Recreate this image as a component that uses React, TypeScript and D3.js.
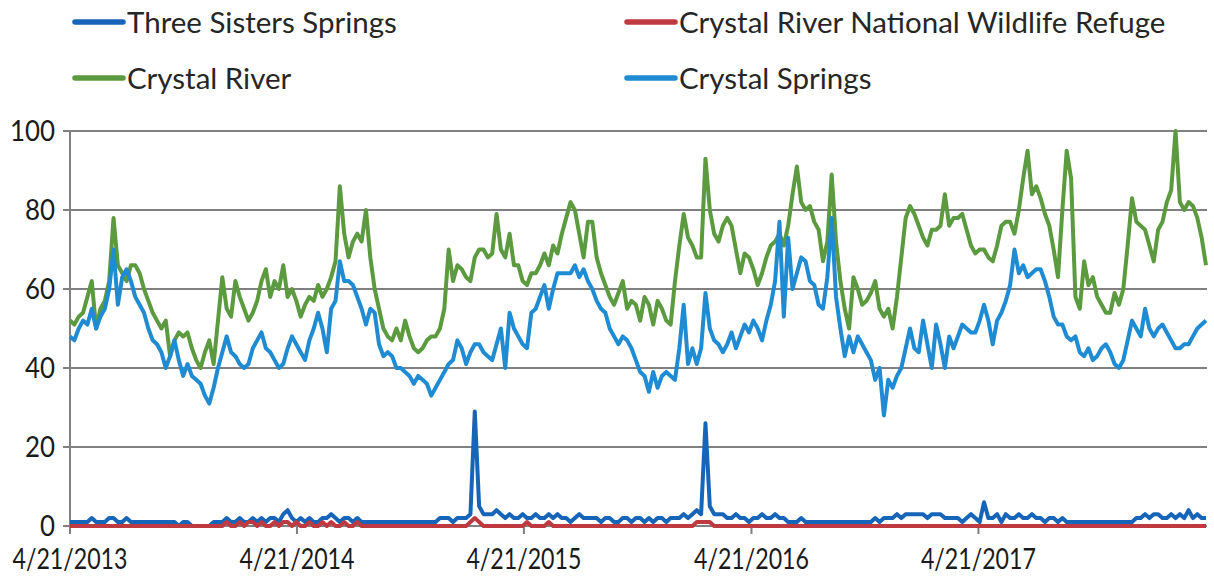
import React from "react";
import * as d3 from "d3";

// weekly Google-Trends style interest, starting the week of 4/21/2013
const firstWeek = "2013-04-21";
const seriesNames = [
  "Three Sisters Springs",
  "Crystal River National Wildlife Refuge",
  "Crystal River",
  "Crystal Springs",
];
const tickLabels = ["4/21/2013", "4/21/2014", "4/21/2015", "4/21/2016", "4/21/2017"];
const yTicks = [0, 20, 40, 60, 80, 100];

const threeSistersSprings = [
  1, 1, 1, 1, 1, 2, 1, 1, 1, 2, 2, 1, 1, 2, 1, 1, 1, 1, 1, 1,
  1, 1, 1, 1, 1, 0, 1, 1, 0, 0, 0, 0, 0, 1, 1, 1, 2, 1, 1, 2,
  1, 1, 2, 1, 2, 1, 2, 2, 1, 3, 4, 2, 1, 2, 1, 2, 1, 1, 2, 2,
  3, 2, 1, 2, 2, 1, 2, 1, 1, 1, 1, 1, 1, 1, 1, 1, 1, 1, 1, 1,
  1, 1, 1, 1, 1, 2, 2, 2, 1, 2, 2, 2, 3, 29, 5, 3, 3, 3, 4, 3,
  2, 3, 2, 2, 3, 2, 2, 3, 2, 2, 3, 2, 3, 2, 2, 1, 2, 3, 2, 2,
  2, 2, 1, 2, 2, 1, 1, 2, 2, 1, 2, 2, 1, 2, 1, 2, 2, 1, 2, 2,
  2, 3, 2, 3, 4, 3, 26, 5, 3, 3, 3, 2, 2, 3, 2, 2, 1, 2, 2, 3,
  2, 2, 3, 2, 2, 1, 1, 1, 2, 1, 1, 1, 1, 1, 1, 1, 1, 1, 1, 1,
  1, 1, 1, 1, 1, 2, 1, 2, 2, 2, 3, 2, 3, 3, 3, 3, 3, 2, 3, 3,
  3, 2, 2, 2, 2, 1, 2, 3, 2, 1, 6, 2, 2, 3, 1, 3, 2, 2, 3, 2,
  2, 3, 2, 2, 1, 2, 2, 1, 2, 1, 1, 1, 1, 1, 1, 1, 1, 1, 1, 1,
  1, 1, 1, 1, 1, 2, 2, 3, 2, 3, 3, 2, 2, 3, 2, 3, 2, 4, 2, 3,
  2, 2,
];

const crystalRiverNWR = [
  0, 0, 0, 0, 0, 0, 0, 0, 0, 0, 0, 0, 0, 0, 0, 0, 0, 0, 0, 0,
  0, 0, 0, 0, 0, 0, 0, 0, 0, 0, 0, 0, 0, 0, 0, 0, 1, 0, 0, 1,
  0, 1, 1, 0, 1, 0, 0, 1, 0, 1, 1, 0, 1, 0, 0, 1, 0, 0, 1, 0,
  1, 0, 0, 1, 0, 0, 1, 0, 0, 0, 0, 0, 0, 0, 0, 0, 0, 0, 0, 0,
  0, 0, 0, 0, 0, 0, 0, 0, 0, 0, 0, 0, 1, 2, 1, 0, 0, 0, 0, 0,
  0, 0, 0, 0, 0, 1, 0, 0, 0, 0, 1, 0, 0, 0, 0, 0, 0, 0, 0, 0,
  0, 0, 0, 0, 0, 0, 0, 0, 0, 0, 0, 0, 0, 0, 0, 0, 0, 0, 0, 0,
  0, 0, 0, 0, 1, 1, 1, 1, 0, 0, 0, 0, 0, 0, 0, 0, 0, 0, 0, 0,
  0, 0, 0, 0, 0, 0, 0, 0, 0, 0, 0, 0, 0, 0, 0, 0, 0, 0, 0, 0,
  0, 0, 0, 0, 0, 0, 0, 0, 0, 0, 0, 0, 0, 0, 0, 0, 0, 0, 0, 0,
  0, 0, 0, 0, 0, 0, 0, 0, 0, 0, 0, 0, 0, 0, 0, 0, 0, 0, 0, 0,
  0, 0, 0, 0, 0, 0, 0, 0, 0, 0, 0, 0, 0, 0, 0, 0, 0, 0, 0, 0,
  0, 0, 0, 0, 0, 0, 0, 0, 0, 0, 0, 0, 0, 0, 0, 0, 0, 0, 0, 0,
  0, 0,
];

const crystalRiver = [
  52, 51, 53, 54, 58, 62, 50, 55, 57, 62, 78, 66, 64, 62, 66, 66, 64, 60, 57, 54,
  52, 50, 52, 43, 47, 49, 48, 49, 45, 42, 40, 44, 47, 41, 52, 63, 55, 53, 62, 58,
  55, 52, 54, 57,
  62, 65, 58, 62, 60, 66, 58, 60, 57, 53, 56, 58, 57, 61, 58, 60, 63, 67, 86, 74,
  68, 72, 74, 72, 80, 68, 60, 55, 50, 48, 47, 50, 47, 52, 48, 45, 44, 45, 47, 48,
  48, 50, 55, 70,
  62, 66, 65, 63, 62, 68, 70, 70, 68, 69, 79, 70, 68, 74, 66, 66, 62, 61, 64, 64,
  66, 69, 66, 71, 69, 74, 78, 82, 80, 74, 68, 77, 77, 68, 64, 61, 58, 56, 59, 62,
  55, 57, 56, 52,
  58, 56, 51, 57, 55, 52, 51, 62, 71, 79, 73, 71, 68, 68, 93, 80, 74, 72, 76, 78,
  76, 70, 64, 69, 68, 65, 61, 64, 68, 71, 72, 74, 71, 76, 84, 91, 82, 80, 81, 77,
  75, 67, 72, 89,
  72, 62, 55, 50, 63, 60, 56, 57, 59, 62, 55, 53, 55, 50, 58, 68, 78, 81, 79, 76,
  73, 71, 75, 75, 76, 84, 76, 78, 78, 79, 75, 71, 69, 70, 70, 68, 67, 71, 76, 77,
  77, 74, 80,
  88, 95, 84, 86, 83, 79, 76, 70, 63, 80, 95, 88, 58, 55, 67, 61, 63, 58, 56, 54,
  54, 59, 56, 60, 71, 83, 77, 76, 75, 71, 67, 75, 77, 82, 85, 100, 82, 80, 82, 81,
  78, 73, 66,
];

const crystalSprings = [
  48, 47, 50, 52, 51, 55, 50, 53, 55, 60, 70, 56, 63, 65, 62, 58, 56, 54, 50, 47,
  46, 44, 40, 43, 47, 42, 38, 41, 38, 37, 36, 33, 31, 35, 40, 44, 48, 44, 43, 41,
  40, 41, 45, 47,
  49, 45, 44, 42, 40, 41, 45, 48, 46, 44, 42, 47, 50, 54, 50, 44, 55, 57, 67, 62,
  62, 61, 58, 55, 51, 55, 54, 46, 43, 44, 43, 40, 40, 39, 38, 36, 38, 37, 36, 33,
  35, 37, 39, 41,
  42, 47, 45, 41, 44, 46, 46, 44, 43, 42, 46, 50, 40, 54, 50, 48, 46, 45, 54, 55,
  58, 61, 55, 60, 64, 64, 64, 64, 66, 63, 65, 62, 60, 57, 55, 54, 50, 48, 46, 48,
  47, 45, 42, 39,
  38, 34, 39, 35, 38, 39, 38, 37, 45, 56, 41, 45, 41, 45, 59, 50, 47, 46, 44, 46,
  49, 45, 48, 51, 49, 52, 50, 47, 52, 56, 62, 77, 53, 73, 60, 64, 68, 67, 62, 61,
  56, 55, 63, 78,
  58, 50, 43, 48, 44, 48, 46, 44, 42, 37, 40, 28, 37, 35, 38, 40, 45, 50, 45, 44,
  52, 46, 40, 51, 46, 40, 48, 45, 48, 51, 50, 49, 49, 52, 56, 52, 46, 52, 54, 57,
  61, 70, 64,
  66, 63, 64, 65, 65, 62, 58, 53, 51, 51, 48, 47, 48, 44, 43, 45, 42, 43, 45, 46,
  44, 41, 40, 42, 47, 52, 50, 48, 55, 50, 48, 50, 51, 49, 47, 45, 45, 46, 46, 48,
  50, 51, 52,
];

const seriesColors = ["#1765b8", "#bf3a40", "#5b9a3e", "#1f8bd3"];

const width = 1214;
const height = 578;
const left = 70;
const right = 1207;
const top = 131;
const bottom = 526;
const font = "Lato, 'Open Sans', sans-serif";

export default function App() {
  const start = d3.timeParse("%Y-%m-%d")(firstWeek) as Date;
  const allSeries = [threeSistersSprings, crystalRiverNWR, crystalRiver, crystalSprings];
  const n = crystalRiver.length;
  const dates = d3.range(n).map((i) => d3.timeWeek.offset(start, i));

  const x = d3.scaleTime().domain([dates[0], dates[n - 1]]).range([left, right - 1]);
  const y = d3.scaleLinear().domain([0, 100]).range([bottom, top]);
  const parseTick = d3.timeParse("%m/%d/%Y");

  const line = d3
    .line<number>()
    .x((_, i) => x(dates[i]))
    .y((d) => y(d));

  const legendPos = [
    [74, 22],
    [626, 22],
    [74, 78],
    [626, 78],
  ];

  return (
    <svg
      width={width}
      height={height}
      style={{ position: "absolute", left: 0, top: 0, background: "#fff" }}
      fontFamily={font}
    >
      {/* legend */}
      {seriesNames.map((name, i) => (
        <g key={name} transform={`translate(${legendPos[i][0]},${legendPos[i][1]})`}>
          <line x1={1} x2={49} y1={0} y2={0} stroke={seriesColors[i]} strokeWidth={5.5} strokeLinecap="round" />
          <text x={53} y={0} dy="0.36em" fontSize={29.5} fill="#262626">
            {name}
          </text>
        </g>
      ))}

      {/* gridlines + y labels */}
      {yTicks.map((t) => (
        <g key={t}>
          <line x1={left - 7} x2={right} y1={y(t)} y2={y(t)} stroke="#808080" strokeWidth={t === 0 ? 2 : 1.8} />
          <text
            x={55}
            y={y(t)}
            dy="0.36em"
            textAnchor="end"
            fontSize={28}
            textLength={String(t).length * 15}
            lengthAdjust="spacingAndGlyphs"
            fill="#1a1a1a"
          >
            {t}
          </text>
        </g>
      ))}
      <line x1={left} x2={left} y1={top} y2={bottom + 8} stroke="#808080" strokeWidth={2} />

      {/* x ticks + labels */}
      {tickLabels.map((lab) => {
        const px = x(parseTick(lab) as Date);
        return (
          <g key={lab}>
            <line x1={px} x2={px} y1={bottom} y2={bottom + 8} stroke="#808080" strokeWidth={2} />
            <text
              x={px}
              y={569}
              textAnchor="middle"
              fontSize={28}
              textLength={115}
              lengthAdjust="spacingAndGlyphs"
              fill="#1a1a1a"
            >
              {lab}
            </text>
          </g>
        );
      })}

      {/* series, drawn in legend order */}
      {allSeries.map((s, i) => (
        <path
          key={seriesNames[i]}
          d={line(s) ?? ""}
          fill="none"
          stroke={seriesColors[i]}
          strokeWidth={4}
          strokeLinejoin="round"
        />
      ))}
    </svg>
  );
}
